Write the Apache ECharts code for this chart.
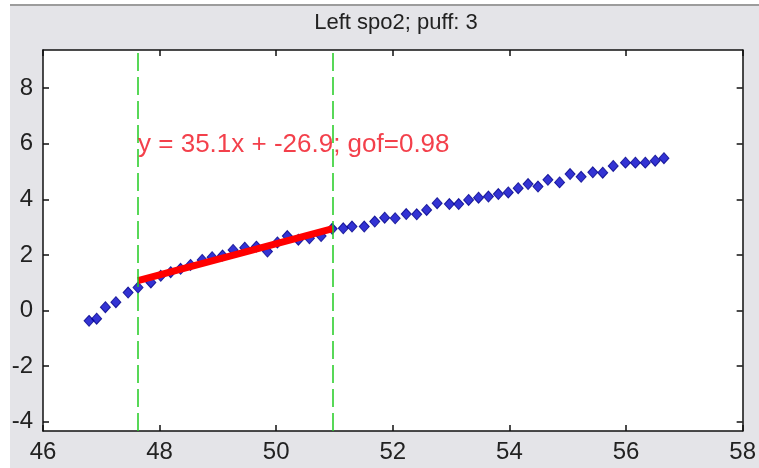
<!DOCTYPE html>
<html>
<head>
<meta charset="utf-8">
<script src="https://cdn.jsdelivr.net/npm/echarts@6/dist/echarts.min.js"></script>
<style>
  html, body { margin: 0; padding: 0; background: #fff; }
  #chart { width: 759px; height: 468px; }
</style>
</head>
<body>
<div id="chart"></div>
<script>
// measured samples (blue diamonds)
var sampleX = [46.79, 46.92, 47.07, 47.25, 47.46, 47.63,
  47.85, 48.02, 48.19, 48.36, 48.53, 48.73, 48.90, 49.08, 49.26, 49.46,
  49.66, 49.85, 50.02, 50.19, 50.38, 50.57, 50.77, 50.96,
  51.15, 51.30, 51.51, 51.69, 51.86, 52.04, 52.23, 52.41, 52.58, 52.76,
  52.97, 53.13, 53.30, 53.47, 53.64, 53.81, 53.98, 54.15, 54.32, 54.49,
  54.66, 54.86, 55.04, 55.23, 55.43, 55.60, 55.78, 55.99, 56.16, 56.33,
  56.50, 56.65];
var sampleY = [-0.37, -0.29, 0.12, 0.30, 0.65, 0.83,
  1.01, 1.25, 1.38, 1.50, 1.64, 1.82, 1.92, 1.98, 2.18, 2.26,
  2.30, 2.12, 2.45, 2.68, 2.55, 2.60, 2.68, 2.94,
  2.96, 3.02, 3.02, 3.20, 3.34, 3.32, 3.47, 3.46, 3.62, 3.86,
  3.83, 3.83, 3.98, 4.06, 4.10, 4.19, 4.25, 4.40, 4.55, 4.46,
  4.70, 4.61, 4.91, 4.81, 4.97, 4.96, 5.20, 5.32, 5.32, 5.32,
  5.39, 5.48];

// fitted segment (red) and window limits (green)
var fitX = [47.63, 50.97];
var fitY = [1.08, 2.95];
var windowX = [47.63, 50.97];
var fitLabel = 'y = 35.1x + -26.9; gof=0.98';
var labelPos = [47.63, 5.95];

var yTicks = [-4, -2, 0, 2, 4, 6, 8];
var titleText = 'Left spo2; puff: 3';

var chart = echarts.init(document.getElementById('chart'));

var font = 'Liberation Sans, Arial, sans-serif';
var grid = { left: 43, right: 10, top: 50, bottom: 37 };

function xAx(pos, showLabel) {
  return {
    type: 'value', position: pos, min: 46, max: 58, interval: 2,
    axisLine: { show: true, onZero: false, lineStyle: { color: '#111', width: 1.5 } },
    axisTick: { show: true, inside: true, length: 6, lineStyle: { color: '#111', width: 1.5 } },
    axisLabel: { show: showLabel, margin: 9, fontSize: 24, color: '#222', fontFamily: font },
    splitLine: { show: false }
  };
}
function yAx(pos, showLabel) {
  return {
    type: 'value', position: pos, min: -4.33, max: 9.37,
    axisLine: { show: true, onZero: false, lineStyle: { color: '#111', width: 1.5 } },
    axisTick: { show: true, inside: true, length: 6, customValues: yTicks, lineStyle: { color: '#111', width: 1.5 } },
    axisLabel: { show: showLabel, customValues: yTicks, margin: 10, fontSize: 24, color: '#222', fontFamily: font },
    splitLine: { show: false }
  };
}

var option = {
  backgroundColor: '#fff',
  animation: false,
  graphic: [
    { type: 'rect', z: -10, shape: { x: 10, y: 5, width: 749, height: 463 }, style: { fill: '#e4e4e8' } },
    { type: 'line', z: -9, shape: { x1: 10, y1: 5, x2: 759, y2: 5 }, style: { stroke: '#9c9c9c', lineWidth: 2 } },
    { type: 'text', x: 396, y: 23, style: { text: titleText, fontSize: 22, fontFamily: font, fill: '#222', align: 'center', verticalAlign: 'middle' } }
  ],
  grid: Object.assign({ show: true, backgroundColor: '#fff', borderWidth: 0 }, grid),
  xAxis: [xAx('bottom', true), xAx('top', false)],
  yAxis: [yAx('left', true), yAx('right', false)],
  series: [
    {
      name: 'samples',
      type: 'scatter',
      symbol: 'diamond',
      symbolSize: [10, 11],
      itemStyle: { color: '#0000c8', borderColor: '#00008a', borderWidth: 1 },
      data: sampleX.map(function (x, i) { return [x, sampleY[i]]; }),
      z: 2
    },
    {
      name: 'fit',
      type: 'line',
      showSymbol: false,
      lineStyle: { color: '#ff0000', width: 7 },
      data: fitX.map(function (x, i) { return [x, fitY[i]]; }),
      z: 3
    },
    {
      name: 'window',
      type: 'line',
      data: [],
      markLine: {
        silent: true,
        symbol: 'none',
        label: { show: false },
        lineStyle: { color: '#22cc22', width: 1.5, type: [18, 6] },
        data: windowX.map(function (x) { return { xAxis: x }; })
      },
      z: 4
    },
    {
      name: 'label',
      type: 'scatter',
      symbolSize: 0,
      silent: true,
      label: {
        show: true, position: 'right', distance: 0,
        formatter: fitLabel, fontSize: 26, fontFamily: font, color: '#f0101e'
      },
      data: [labelPos],
      z: 5
    }
  ]
};

chart.setOption(option);
</script>
</body>
</html>
